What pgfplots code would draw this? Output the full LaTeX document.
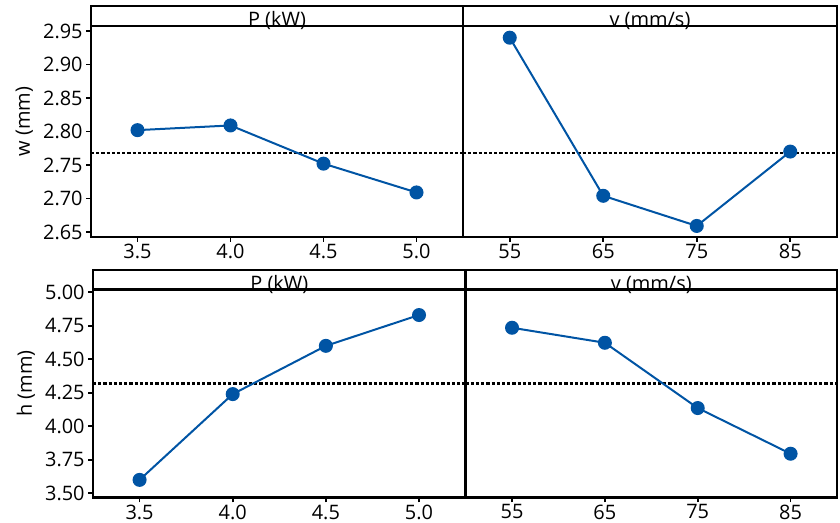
\documentclass[border=0pt]{standalone}
\usepackage{fontspec}
\setmainfont{Open Sans}
\usepackage{pgfplots}
\pgfplotsset{compat=1.18}

\definecolor{mblue}{RGB}{0,84,164}

\pgfplotsset{
  panel/.style={
    scale only axis, anchor=south west,
    axis line style={line width=1.2bp},
    tick style={black, line width=0.9bp},
    tick align=outside, major tick length=2.5bp,
    xtick pos=bottom, ytick pos=left,
    tick label style={font=\fontsize{10}{11}\selectfont},
    xticklabel style={inner sep=1bp},
    yticklabel style={inner sep=1.5bp},
    label style={font=\fontsize{10}{11}\selectfont},
    /pgf/number format/assume math mode=true,
    clip=false,
  },
  series/.style={color=mblue, line width=1bp, mark=*, mark size=3bp,
    mark options={fill=mblue, draw=mblue}},
  mean/.style={black, line width=1.2bp, dash pattern=on 1.6bp off 1bp},
}

\newcommand{\header}[1]{%
  \draw[line width=1.2bp] (rel axis cs:0,0.914) -- (rel axis cs:1,0.914);
  \node[anchor=base, font=\fontsize{10}{11}\selectfont, inner sep=0pt, yshift=-0.3bp]
    at (rel axis cs:0.5,0.914) {#1};
}

\begin{document}
\begin{tikzpicture}

% top row: w
\begin{axis}[panel, at={(45.5bp,143bp)}, width=186bp, height=115.5bp,
  xmin=3.25, xmax=5.25, ymin=2.6425, ymax=2.9873,
  xtick={3.5,4,4.5,5}, ytick={2.65,2.70,...,2.95},
  xticklabel style={/pgf/number format/.cd, fixed, fixed zerofill, precision=1},
  yticklabel style={/pgf/number format/.cd, fixed, fixed zerofill, precision=2},
  ylabel={w (mm)}]
\addplot[mean] coordinates {(3.25,2.768) (5.25,2.768)};
\addplot[series] coordinates {(3.5,2.802) (4.0,2.809) (4.5,2.752) (5.0,2.709)};
\header{P (kW)}
\end{axis}

\begin{axis}[panel, at={(231.5bp,143bp)}, width=187bp, height=115.5bp,
  xmin=50, xmax=90, ymin=2.6425, ymax=2.9873,
  xtick={55,65,75,85}, ytick=\empty]
\addplot[mean] coordinates {(50,2.768) (90,2.768)};
\addplot[series] coordinates {(55,2.940) (65,2.704) (75,2.659) (85,2.770)};
\header{v (mm/s)}
\end{axis}

% bottom row: h
\begin{axis}[panel, at={(46.5bp,12.85bp)}, width=186.3bp, height=113.65bp,
  xmin=3.25, xmax=5.25, ymin=3.470, ymax=5.166,
  xtick={3.5,4,4.5,5}, ytick={3.50,3.75,...,5.00},
  xticklabel style={/pgf/number format/.cd, fixed, fixed zerofill, precision=1},
  yticklabel style={/pgf/number format/.cd, fixed, fixed zerofill, precision=2},
  ylabel={h (mm)}]
\addplot[mean] coordinates {(3.25,4.318) (5.25,4.318)};
\addplot[series] coordinates {(3.5,3.60) (4.0,4.24) (4.5,4.60) (5.0,4.83)};
\header{P (kW)}
\end{axis}

\begin{axis}[panel, at={(232.8bp,12.85bp)}, width=185.7bp, height=113.65bp,
  xmin=50, xmax=90, ymin=3.470, ymax=5.166,
  xtick={55,65,75,85}, ytick=\empty]
\addplot[mean] coordinates {(50,4.318) (90,4.318)};
\addplot[series] coordinates {(55,4.735) (65,4.623) (75,4.136) (85,3.795)};
\header{v (mm/s)}
\end{axis}

\pgfresetboundingbox
\useasboundingbox (0,0) rectangle (420bp,261.5bp);
\end{tikzpicture}
\end{document}
